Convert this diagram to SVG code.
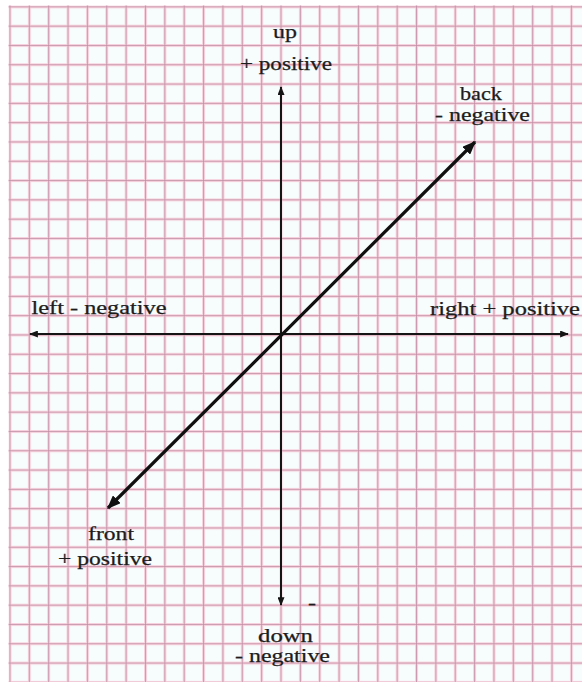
<svg xmlns="http://www.w3.org/2000/svg" width="582" height="682" viewBox="0 0 582 682">
  <style>
    .lbl { font-family: "Liberation Serif", "Times New Roman", serif; font-size: 18px; fill: #1c1c1c; stroke: #1c1c1c; stroke-width: 0.25; }
    .axis { stroke: #151515; stroke-width: 2; fill: none; }
    .diag { stroke: #101010; stroke-width: 3.2; fill: none; }
  </style>
  <defs>
    <pattern id="grid" x="8.5" y="5.4" width="19.36" height="19.3" patternUnits="userSpaceOnUse">
      <line x1="1.5" y1="0" x2="1.5" y2="19.3" stroke="#f7d2de" stroke-width="3"/>
      <line x1="0" y1="1.5" x2="19.36" y2="1.5" stroke="#f7d2de" stroke-width="3"/>
      <line x1="1.5" y1="0" x2="1.5" y2="19.3" stroke="#c08aa0" stroke-width="0.8"/>
      <line x1="0" y1="1.5" x2="19.36" y2="1.5" stroke="#c08aa0" stroke-width="0.8"/>
    </pattern>
    <marker id="ah" viewBox="0 0 10 8" refX="9" refY="4" markerWidth="9" markerHeight="7" markerUnits="userSpaceOnUse" orient="auto-start-reverse">
      <path d="M0,0 L10,4 L0,8 z" fill="#151515"/>
    </marker>
    <marker id="ahd" viewBox="0 0 10 8" refX="9" refY="4" markerWidth="14" markerHeight="11" markerUnits="userSpaceOnUse" orient="auto-start-reverse">
      <path d="M0,0 L10,4 L0,8 z" fill="#101010"/>
    </marker>
  </defs>

  <rect x="0" y="0" width="582" height="682" fill="#ffffff"/>
  <rect x="10" y="7" width="572" height="675" fill="#f7fcfc"/>
  <rect x="8.5" y="5.4" width="573.5" height="676.6" fill="url(#grid)"/>

  <g id="connectors">
    <line id="vertical-axis" class="axis" x1="281" y1="605" x2="281" y2="87" marker-start="url(#ah)" marker-end="url(#ah)"/>
    <line id="horizontal-axis" class="axis" x1="30" y1="334" x2="568" y2="334" marker-start="url(#ah)" marker-end="url(#ah)"/>
    <line id="depth-axis" class="diag" x1="108" y1="508" x2="475" y2="142" marker-start="url(#ahd)" marker-end="url(#ahd)"/>
  </g>

  <g id="up">
    <text class="lbl" x="273" y="37.5" textLength="24" lengthAdjust="spacingAndGlyphs">up</text>
    <text class="lbl" x="240" y="70" textLength="92" lengthAdjust="spacingAndGlyphs">+ positive</text>
  </g>
  <g id="back">
    <text class="lbl" x="460" y="100" textLength="42" lengthAdjust="spacingAndGlyphs">back</text>
    <text class="lbl" x="435" y="120.5" textLength="95" lengthAdjust="spacingAndGlyphs">- negative</text>
  </g>
  <g id="left">
    <text class="lbl" x="31.5" y="313.5" textLength="135" lengthAdjust="spacingAndGlyphs">left - negative</text>
  </g>
  <g id="right">
    <text class="lbl" x="430" y="315" textLength="150" lengthAdjust="spacingAndGlyphs">right + positive</text>
  </g>
  <g id="front">
    <text class="lbl" x="88" y="540" textLength="46" lengthAdjust="spacingAndGlyphs">front</text>
    <text class="lbl" x="58" y="565" textLength="94" lengthAdjust="spacingAndGlyphs">+ positive</text>
  </g>
  <g id="down">
    <text class="lbl" x="308" y="608.5" textLength="8" lengthAdjust="spacingAndGlyphs">-</text>
    <text class="lbl" x="258" y="641.5" textLength="55" lengthAdjust="spacingAndGlyphs">down</text>
    <text class="lbl" x="235" y="662" textLength="95" lengthAdjust="spacingAndGlyphs">- negative</text>
  </g>
</svg>
